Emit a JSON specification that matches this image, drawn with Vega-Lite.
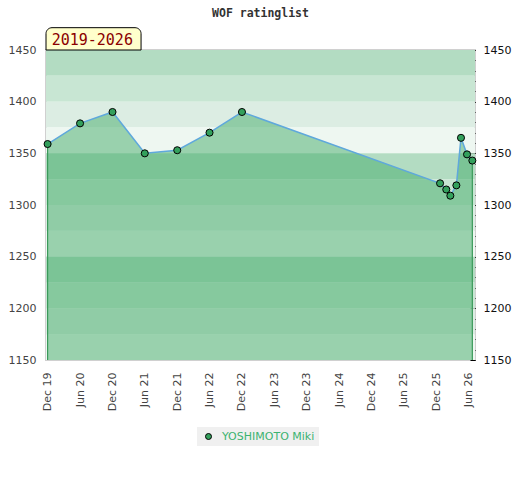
{
  "$schema": "https://vega.github.io/schema/vega-lite/v6.json",
  "width": 429,
  "height": 310,
  "autosize": {"type": "none"},
  "padding": {"left": 46, "top": 50, "right": 45, "bottom": 120},
  "title": {"text": "WOF ratinglist", "font": "DejaVu Sans Mono", "fontSize": 11.5, "fontWeight": "bold", "color": "#333333", "offset": -1.5, "baseline": "alphabetic", "anchor": "middle", "frame": "group"},
  "config": {"view": {"stroke": "#d0d0d0", "strokeWidth": 2}, "axis": {"labelOverlap": false}},
  "datasets": {
    "ratings": [
      {"date": "2019-12-01", "rating": 1359, "player": "YOSHIMOTO Miki"},
      {"date": "2020-06-01", "rating": 1379, "player": "YOSHIMOTO Miki"},
      {"date": "2020-12-01", "rating": 1390, "player": "YOSHIMOTO Miki"},
      {"date": "2021-06-01", "rating": 1350, "player": "YOSHIMOTO Miki"},
      {"date": "2021-12-01", "rating": 1353, "player": "YOSHIMOTO Miki"},
      {"date": "2022-06-01", "rating": 1370, "player": "YOSHIMOTO Miki"},
      {"date": "2022-12-01", "rating": 1390, "player": "YOSHIMOTO Miki"},
      {"date": "2025-12-22", "rating": 1321, "player": "YOSHIMOTO Miki"},
      {"date": "2026-01-26", "rating": 1315, "player": "YOSHIMOTO Miki"},
      {"date": "2026-02-18", "rating": 1309, "player": "YOSHIMOTO Miki"},
      {"date": "2026-03-24", "rating": 1319, "player": "YOSHIMOTO Miki"},
      {"date": "2026-04-19", "rating": 1365, "player": "YOSHIMOTO Miki"},
      {"date": "2026-05-23", "rating": 1349, "player": "YOSHIMOTO Miki"},
      {"date": "2026-06-22", "rating": 1343, "player": "YOSHIMOTO Miki"}
    ],
    "bands": [
      {"lo": 1425, "hi": 1450, "tier": "A"},
      {"lo": 1400, "hi": 1425, "tier": "B"},
      {"lo": 1375, "hi": 1400, "tier": "C"},
      {"lo": 1350, "hi": 1375, "tier": "D"},
      {"lo": 1325, "hi": 1350, "tier": "A"},
      {"lo": 1300, "hi": 1325, "tier": "B"},
      {"lo": 1275, "hi": 1300, "tier": "C"},
      {"lo": 1250, "hi": 1275, "tier": "D"},
      {"lo": 1225, "hi": 1250, "tier": "A"},
      {"lo": 1200, "hi": 1225, "tier": "B"},
      {"lo": 1175, "hi": 1200, "tier": "C"},
      {"lo": 1150, "hi": 1175, "tier": "D"}
    ],
    "period": [{"label": "2019-2026"}]
  },
  "resolve": {"axis": {"y": "independent"}},
  "layer": [
    {
      "data": {"name": "bands"},
      "mark": {"type": "rect"},
      "encoding": {
        "y": {"field": "lo", "type": "quantitative", "scale": {"domain": [1150, 1450], "nice": false, "zero": false},
          "axis": {"orient": "left", "values": [1150, 1200, 1250, 1300, 1350, 1400, 1450], "tickCount": 20, "format": "d", "ticks": false, "tickSize": 0, "domain": false, "grid": false, "title": null, "labelPadding": 10, "labelColor": "#444444", "labelFont": "DejaVu Sans", "labelFontSize": 11}},
        "y2": {"field": "hi"},
        "fill": {"field": "tier", "type": "nominal", "scale": {"domain": ["A", "B", "C", "D"], "range": ["#b3dcc2", "#c8e6d3", "#dcede3", "#eef7f1"]}, "legend": null}
      }
    },
    {
      "data": {"name": "ratings"},
      "mark": {"type": "area", "color": "#44ab69", "opacity": 0.5},
      "encoding": {
        "x": {"field": "date", "type": "temporal",
          "scale": {"domain": [{"year": 2019, "month": 11, "date": 22}, {"year": 2026, "month": 7, "date": 7}]},
          "axis": {"orient": "bottom", "tickCount": 30, "values": [
            {"year": 2019, "month": 12, "date": 1}, {"year": 2020, "month": 6, "date": 1},
            {"year": 2020, "month": 12, "date": 1}, {"year": 2021, "month": 6, "date": 1},
            {"year": 2021, "month": 12, "date": 1}, {"year": 2022, "month": 6, "date": 1},
            {"year": 2022, "month": 12, "date": 1}, {"year": 2023, "month": 6, "date": 1},
            {"year": 2023, "month": 12, "date": 1}, {"year": 2024, "month": 6, "date": 1},
            {"year": 2024, "month": 12, "date": 1}, {"year": 2025, "month": 6, "date": 1},
            {"year": 2025, "month": 12, "date": 1}, {"year": 2026, "month": 6, "date": 1}],
            "format": "%b %y", "labelAngle": -90, "ticks": false, "tickSize": 0, "domain": false, "grid": false, "title": null,
            "labelPadding": 12, "labelColor": "#444444", "labelFont": "DejaVu Sans", "labelFontSize": 11, "labelOverlap": false, "labelBound": false, "labelFlush": false}},
        "y": {"field": "rating", "type": "quantitative", "scale": {"domain": [1150, 1450], "nice": false, "zero": false},
          "axis": {"orient": "right", "tickCount": 60, "values": [1150, 1160, 1170, 1180, 1190, 1200, 1210, 1220, 1230, 1240, 1250, 1260, 1270, 1280, 1290, 1300, 1310, 1320, 1330, 1340, 1350, 1360, 1370, 1380, 1390, 1400, 1410, 1420, 1430, 1440, 1450],
            "labels": false, "tickSize": 3, "offset": -3, "tickColor": "#000000", "domain": false, "grid": false, "title": null}},
        "y2": {"datum": 1150}
      }
    },
    {
      "data": {"name": "ratings"},
      "transform": [
        {"joinaggregate": [{"op": "min", "field": "date", "as": "first"}, {"op": "max", "field": "date", "as": "last"}]},
        {"filter": "time(datum.date) == time(datum.first) || time(datum.date) == time(datum.last)"}
      ],
      "mark": {"type": "rule", "color": "#3a9a5a", "strokeWidth": 1.2},
      "encoding": {
        "x": {"field": "date", "type": "temporal", "scale": {"domain": [{"year": 2019, "month": 11, "date": 22}, {"year": 2026, "month": 7, "date": 7}]}},
        "y": {"field": "rating", "type": "quantitative", "scale": {"domain": [1150, 1450], "nice": false, "zero": false}, "axis": null},
        "y2": {"datum": 1150}
      }
    },
    {
      "data": {"name": "ratings"},
      "mark": {"type": "line", "color": "#5fa8dc", "strokeWidth": 1.5},
      "encoding": {
        "x": {"field": "date", "type": "temporal", "scale": {"domain": [{"year": 2019, "month": 11, "date": 22}, {"year": 2026, "month": 7, "date": 7}]}},
        "y": {"field": "rating", "type": "quantitative", "scale": {"domain": [1150, 1450], "nice": false, "zero": false},
          "axis": {"orient": "right", "tickCount": 20, "values": [1150, 1200, 1250, 1300, 1350, 1400, 1450], "format": "d", "tickSize": 5, "offset": -5, "tickColor": "#000000", "domain": false, "grid": false, "title": null,
            "labelPadding": 8, "labelColor": "#111111", "labelFont": "DejaVu Sans", "labelFontSize": 11}}
      }
    },
    {
      "data": {"name": "ratings"},
      "mark": {"type": "point", "filled": true, "size": 50, "stroke": "#000000", "strokeWidth": 1, "opacity": 1},
      "encoding": {
        "x": {"field": "date", "type": "temporal", "scale": {"domain": [{"year": 2019, "month": 11, "date": 22}, {"year": 2026, "month": 7, "date": 7}]}},
        "y": {"field": "rating", "type": "quantitative", "scale": {"domain": [1150, 1450], "nice": false, "zero": false}, "axis": null},
        "color": {"field": "player", "type": "nominal", "scale": {"domain": ["YOSHIMOTO Miki"], "range": ["#33a05c"]},
          "legend": {"orient": "none", "legendX": 151, "legendY": 377, "title": null, "fillColor": "#f0f0f0", "padding": 4,
            "labelColor": "#3cb371", "labelFont": "DejaVu Sans", "labelFontSize": 11, "symbolType": "circle", "symbolSize": 36,
            "symbolStrokeColor": "#000000", "symbolStrokeWidth": 1, "symbolFillColor": "#33a05c", "labelOffset": 8, "symbolOffset": 2}}
      }
    },
    {
      "data": {"name": "period"},
      "mark": {"type": "rect", "fill": "#ffffcc", "stroke": "#000000", "strokeWidth": 1, "cornerRadiusTopLeft": 6, "cornerRadiusTopRight": 6},
      "encoding": {
        "x": {"datum": {"year": 2019, "month": 11, "date": 22}, "type": "temporal", "scale": {"domain": [{"year": 2019, "month": 11, "date": 22}, {"year": 2026, "month": 7, "date": 7}]}},
        "x2": {"datum": {"year": 2021, "month": 5, "date": 11}},
        "y": {"datum": 1450, "type": "quantitative", "scale": {"domain": [1150, 1450], "nice": false, "zero": false}, "axis": null},
        "y2": {"datum": 1471.6}
      }
    },
    {
      "data": {"name": "period"},
      "mark": {"type": "text", "font": "DejaVu Sans Mono", "fontSize": 15, "color": "#8b0000", "align": "center", "baseline": "alphabetic"},
      "encoding": {
        "x": {"datum": {"year": 2020, "month": 8, "date": 9}, "type": "temporal", "scale": {"domain": [{"year": 2019, "month": 11, "date": 22}, {"year": 2026, "month": 7, "date": 7}]}},
        "y": {"datum": 1454.8, "type": "quantitative", "scale": {"domain": [1150, 1450], "nice": false, "zero": false}, "axis": null},
        "text": {"field": "label"}
      }
    }
  ]
}
